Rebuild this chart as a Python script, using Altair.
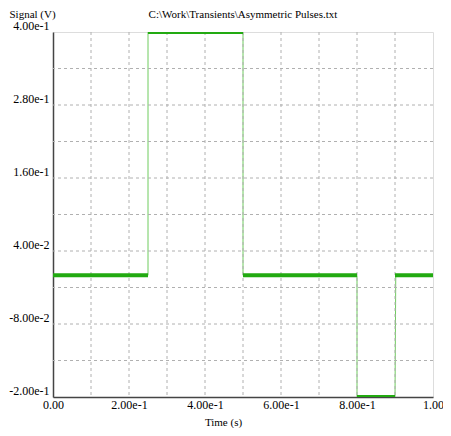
import altair as alt
import pandas as pd

# Flat (thick) segments of the pulse trace
seg_start = [0.0, 0.25, 0.5, 0.8, 0.9]
seg_end = [0.25, 0.5, 0.8, 0.9, 1.0]
seg_level = [0.0, 0.4, 0.0, -0.2, 0.0]

# Full trace (thin connecting line)
trace_t = [0.0, 0.25, 0.25, 0.5, 0.5, 0.8, 0.8, 0.9, 0.902, 1.0]
trace_v = [0.0, 0.0, 0.4, 0.4, 0.0, 0.0, -0.2, -0.2, 0.0, 0.0]

x_ticks = [0.0, 0.1, 0.2, 0.3, 0.4, 0.5, 0.6, 0.7, 0.8, 0.9, 1.0]
y_ticks = [-0.2, -0.14, -0.08, -0.02, 0.04, 0.10, 0.16, 0.22, 0.28, 0.34, 0.40]

title_text = "C:\\Work\\Transients\\Asymmetric Pulses.txt"
x_title = "Time (s)"
y_title = "Signal (V)"

FONT = "Liberation Serif"

seg_df = pd.DataFrame({"t0": seg_start, "t1": seg_end, "v": seg_level})
trace_df = pd.DataFrame({"t": trace_t, "v": trace_v, "i": list(range(len(trace_t)))})
xg_df = pd.DataFrame({"gx": x_ticks[1:-1]})
yg_df = pd.DataFrame({"gy": y_ticks[1:-1]})

fmt = "replace(format(datum.value, '.2e'), '\u2212', '-')"
x_label_expr = (
    "round(datum.value*10) % 2 == 0 ? (abs(datum.value) < 1e-9 ? '0.00' : "
    "(datum.value > 0.999 ? '1.00' : " + fmt + ")) : ''"
)
y_label_expr = "round((datum.value+0.2)/0.06) % 2 == 0 ? " + fmt + " : ''"

x_scale = alt.Scale(domain=[0, 1], nice=False, zero=False)
y_scale = alt.Scale(domain=[-0.2, 0.4], nice=False, zero=False)

x_axis = alt.Axis(
    values=x_ticks, labelExpr=x_label_expr, title=x_title,
    grid=False, ticks=False, domainColor="#444444", domainWidth=1.5,
    labelFlush=False, labelOverlap=False, labelBound=False,
    labelFont=FONT, labelFontSize=12, labelColor="#000000", labelPadding=2,
    labelBaseline="top",
    titleFont=FONT, titleFontSize=11, titleFontWeight="normal", titleColor="#000000",
    titleX=170, titleAlign="center", titleY=28, titleBaseline="alphabetic",
)
y_axis = alt.Axis(
    values=y_ticks, labelExpr=y_label_expr, title=y_title,
    grid=False, ticks=False, domainColor="#444444", domainWidth=1.5,
    labelOverlap=False, labelBound=False, labelFlush=False,
    labelFont=FONT, labelFontSize=12, labelColor="#000000", labelPadding=4,
    labelBaseline="alphabetic", labelOffset=-3,
    titleFont=FONT, titleFontSize=11, titleFontWeight="normal", titleColor="#000000",
    titleAngle=0, titleX=-44, titleY=-15, titleAlign="left", titleBaseline="alphabetic",
)

grid_x = alt.Chart(xg_df).mark_rule(color="#b0b0b0", strokeWidth=1, strokeDash=[3, 3]).encode(
    x=alt.X("gx:Q", scale=x_scale),
)
grid_y = alt.Chart(yg_df).mark_rule(color="#b0b0b0", strokeWidth=1, strokeDash=[3, 3]).encode(
    y=alt.Y("gy:Q", scale=y_scale),
)

thin = alt.Chart(trace_df).mark_line(color="#6fcc5e", strokeWidth=1, clip=True).encode(
    x=alt.X("t:Q", scale=x_scale, axis=x_axis),
    y=alt.Y("v:Q", scale=y_scale, axis=y_axis),
    order="i:Q",
)

thick = alt.Chart(seg_df).mark_rule(color="#22aa11", strokeWidth=4, clip=True).encode(
    x=alt.X("t0:Q", scale=x_scale),
    x2="t1:Q",
    y=alt.Y("v:Q", scale=y_scale),
)

chart = alt.layer(thin, grid_x, grid_y, thick).properties(
    width=380,
    height=365,
    title=alt.TitleParams(
        text=title_text, font=FONT, fontSize=11, fontWeight="normal",
        color="#000000", anchor="middle", offset=0, dy=12,
    ),
    autosize=alt.AutoSizeParams(type="none"),
    padding={"left": 45, "top": 24, "right": 10, "bottom": 31},
).configure_view(
    stroke="#777777", strokeWidth=1.5
).configure(background="#ffffff")

chart.save("out.html", embed_options={"renderer": "svg", "actions": False})
